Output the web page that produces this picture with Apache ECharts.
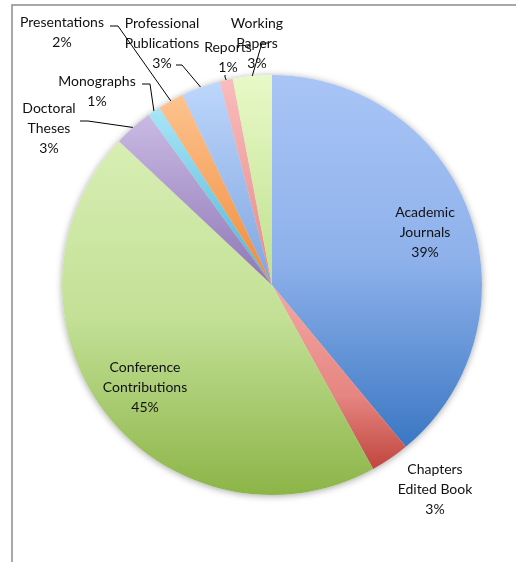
<!DOCTYPE html>
<html>
<head>
<meta charset="utf-8">
<script src="https://cdn.jsdelivr.net/npm/echarts@6/dist/echarts.min.js"></script>
<style>
  html, body { margin: 0; padding: 0; background: #fff; }
  #chart { width: 516px; height: 562px; }
</style>
</head>
<body>
<div id="chart"></div>
<script>
// Publication types, clockwise from twelve o'clock
const categories = [
  'Academic Journals', 'Chapters Edited Book', 'Conference Contributions',
  'Doctoral Theses', 'Monographs', 'Presentations',
  'Professional Publications', 'Reports', 'Working Papers'
];
// Share of each type, in percent
const shares = [39, 3, 45, 3, 1, 2, 3, 1, 3];
// Category names broken onto lines for the labels
const labelNames = [
  'Academic\nJournals', 'Chapters\nEdited Book', 'Conference\nContributions',
  'Doctoral\nTheses', 'Monographs', 'Presentations',
  'Professional\nPublications', 'Reports', 'Working\nPapers'
];

// Vertical gradient for each slice: [offset, colour] stops
const fills = [
  [[0, '#a9c5f6'], [0.5, '#8eb1eb'], [1, '#3a77c3']],
  [[0, '#f4a8a5'], [0.6, '#e68581'], [1, '#c0463e']],
  [[0, '#d8eeb4'], [0.5, '#c3e096'], [1, '#8cb548']],
  [[0, '#c9bae3'], [1, '#8f76b6']],
  [[0, '#a8e5f8'], [1, '#4fb4d4']],
  [[0, '#fdc38f'], [1, '#f08a3a']],
  [[0, '#bdd6fb'], [1, '#7fa5e0']],
  [[0, '#f9bcbc'], [1, '#e58a88']],
  [[0, '#e8f9c8'], [1, '#bfe08d']]
];

// Label block centres and the bends of their leader lines
const labelSpots = {
  'Academic Journals':         { at: [425, 232] },
  'Chapters Edited Book':      { at: [435, 489] },
  'Conference Contributions':  { at: [145, 387] },
  'Doctoral Theses':           { at: [49, 128],  bend: [[88, 121], [80, 121]] },
  'Monographs':                { at: [97, 91],   bend: [[150, 84], [142, 84]] },
  'Presentations':             { at: [62, 32],   bend: [[118, 26], [110, 26]] },
  'Professional Publications': { at: [162, 43],  bend: [[182, 65], [176, 65]] },
  'Reports':                   { at: [228, 57],  bend: [[225, 77], [225, 75]] },
  'Working Papers':            { at: [257, 43],  bend: [[262, 43], [268, 43]] }
};
const insideLabels = ['Academic Journals', 'Chapters Edited Book', 'Conference Contributions'];

const pieCenter = [272, 285];
const pieRadius = 210;

const chart = echarts.init(document.getElementById('chart'), null, { renderer: 'canvas' });

const sliceData = categories.map((name, i) => {
  const inside = insideLabels.includes(name);
  return {
    name: name,
    value: shares[i],
    itemStyle: {
      color: new echarts.graphic.LinearGradient(0, 0, 0, 1,
        fills[i].map(s => ({ offset: s[0], color: s[1] })))
    },
    label: { position: inside ? 'inside' : 'outside' },
    labelLine: { show: !inside }
  };
});

chart.setOption({
  animation: false,
  backgroundColor: '#ffffff',
  graphic: [{
    type: 'rect',
    silent: true,
    shape: { x: 12, y: 5, width: 800, height: 800 },
    style: { fill: 'none', stroke: '#8c8c8c', lineWidth: 1.5 }
  }],
  series: [
    {
      // soft drop shadow under the whole disc
      type: 'pie',
      silent: true,
      center: pieCenter,
      radius: pieRadius,
      startAngle: 90,
      clockwise: true,
      label: { show: false },
      labelLine: { show: false },
      emphasis: { disabled: true },
      itemStyle: {
        color: '#ffffff',
        shadowBlur: 7,
        shadowColor: 'rgba(0,0,0,0.35)',
        shadowOffsetX: 0,
        shadowOffsetY: 1
      },
      data: categories.map((name, i) => ({ name: name, value: shares[i] }))
    },
    {
      type: 'pie',
      center: pieCenter,
      radius: pieRadius,
      startAngle: 90,
      clockwise: true,
      percentPrecision: 0,
      avoidLabelOverlap: false,
      emphasis: { disabled: true },
      itemStyle: { borderWidth: 0 },
      label: {
        show: true,
        color: '#111111',
        fontFamily: 'Lato',
        fontSize: 14,
        lineHeight: 20,
        align: 'center',
        overflow: 'none',
        formatter: p => labelNames[p.dataIndex] + '\n' + p.percent + '%'
      },
      labelLine: {
        show: true,
        smooth: false,
        lineStyle: { color: '#000000', width: 1 }
      },
      labelLayout: params => {
        const spot = labelSpots[categories[params.dataIndex]];
        const out = { x: spot.at[0], y: spot.at[1], align: 'center', verticalAlign: 'middle' };
        if (spot.bend && params.labelLinePoints) {
          out.labelLinePoints = [params.labelLinePoints[0]].concat(spot.bend);
        }
        return out;
      },
      data: sliceData
    }
  ]
});
</script>
</body>
</html>
